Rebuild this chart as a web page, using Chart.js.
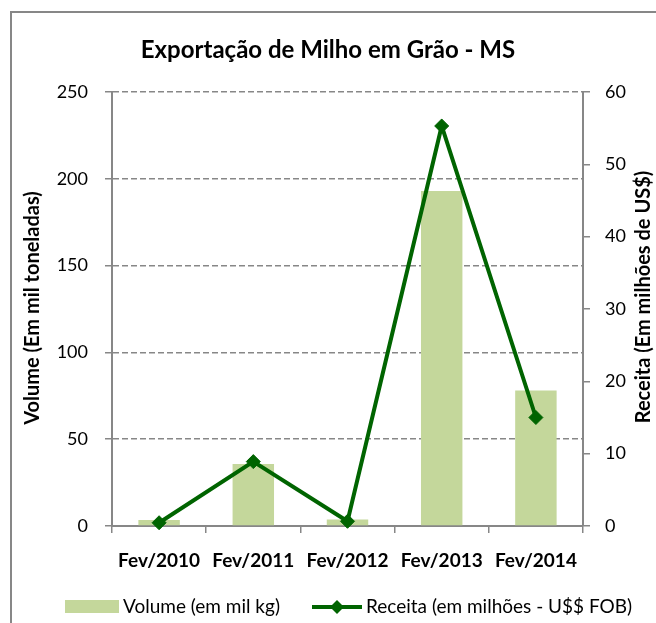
<!DOCTYPE html>
<html><head><meta charset="utf-8">
<script src="https://cdn.jsdelivr.net/npm/chart.js@4"></script>
<style>html,body{margin:0;padding:0;background:#fff}#wrap{width:656px;height:623px;position:relative}</style>
</head><body><div id="wrap"><canvas id="c" width="656" height="623"></canvas></div>
<script>
const categories = ['Fev/2010', 'Fev/2011', 'Fev/2012', 'Fev/2013', 'Fev/2014'];
const volumeValues = [3.4, 35.7, 3.8, 193, 78];
const receitaValues = [0.45, 8.9, 0.65, 55.3, 15.0];
const volumeTicks = [0, 50, 100, 150, 200, 250];
const receitaTicks = [0, 10, 20, 30, 40, 50, 60];
const seriesNames = ['Volume (em mil kg)', 'Receita (em milhões - U$$ FOB)'];
const chartTitle = 'Exportação de Milho em Grão - MS';
const leftAxisTitle = 'Volume (Em mil toneladas)';
const rightAxisTitle = 'Receita (Em milhões de US$)';

const FONT = 'Lato';
const BAR_COLOR = '#C4D79B';
const LINE_COLOR = '#006400';
const AXIS_COLOR = '#878787';

const decorPlugin = {
  id: 'decor',
  beforeDraw(chart) {
    const ctx = chart.ctx;
    ctx.save();
    ctx.fillStyle = '#ffffff';
    ctx.fillRect(0, 0, chart.width, chart.height);
    ctx.strokeStyle = AXIS_COLOR;
    ctx.lineWidth = 2;
    ctx.beginPath();
    ctx.moveTo(11, chart.height);
    ctx.lineTo(11, 12);
    ctx.lineTo(chart.width, 12);
    ctx.stroke();
    ctx.restore();
  },
  afterDraw(chart) {
    const ctx = chart.ctx;
    const area = chart.chartArea;
    const midY = (area.top + area.bottom) / 2;
    ctx.save();
    ctx.fillStyle = '#000';
    ctx.font = 'bold 20px ' + FONT;
    ctx.textAlign = 'center';
    ctx.textBaseline = 'middle';
    ctx.save();
    ctx.translate(33, midY - 1);
    ctx.rotate(-Math.PI / 2);
    ctx.fillText(leftAxisTitle, 0, 0);
    ctx.restore();
    ctx.save();
    ctx.translate(644, midY - 12);
    ctx.rotate(-Math.PI / 2);
    ctx.fillText(rightAxisTitle, 0, 0);
    ctx.restore();

    // legend
    const ds = chart.data.datasets;
    const barDs = ds.find(d => d.type === 'bar');
    const lineDs = ds.find(d => d.type === 'line');
    const ly = 607;
    ctx.font = '19px ' + FONT;
    ctx.textAlign = 'left';
    ctx.fillStyle = barDs.backgroundColor;
    ctx.fillRect(65, 600, 54, 13);
    ctx.fillStyle = '#000';
    ctx.fillText(barDs.label, 123, ly);
    ctx.strokeStyle = lineDs.borderColor;
    ctx.lineWidth = 4;
    ctx.beginPath();
    ctx.moveTo(312, ly);
    ctx.lineTo(362, ly);
    ctx.stroke();
    ctx.fillStyle = lineDs.borderColor;
    ctx.beginPath();
    ctx.moveTo(337, ly - 7);
    ctx.lineTo(344, ly);
    ctx.lineTo(337, ly + 7);
    ctx.lineTo(330, ly);
    ctx.closePath();
    ctx.fill();
    ctx.fillStyle = '#000';
    ctx.fillText(lineDs.label, 366, ly);
    ctx.restore();
  }
};

new Chart(document.getElementById('c'), {
  type: 'bar',
  data: {
    labels: categories,
    datasets: [
      {
        type: 'line',
        label: seriesNames[1],
        data: receitaValues,
        yAxisID: 'y1',
        borderColor: LINE_COLOR,
        backgroundColor: LINE_COLOR,
        borderWidth: 4,
        pointStyle: 'rectRot',
        pointRadius: 7,
        pointBorderWidth: 1,
        pointBackgroundColor: LINE_COLOR,
        pointBorderColor: LINE_COLOR,
        tension: 0,
        clip: false,
        order: 0
      },
      {
        type: 'bar',
        label: seriesNames[0],
        data: volumeValues,
        yAxisID: 'y',
        backgroundColor: BAR_COLOR,
        borderWidth: 0,
        barPercentage: 0.44,
        categoryPercentage: 1,
        order: 1
      }
    ]
  },
  options: {
    responsive: false,
    animation: false,
    devicePixelRatio: 1,
    layout: { padding: { left: 0, right: 0, top: 0, bottom: 0 } },
    plugins: {
      legend: { display: false },
      tooltip: { enabled: false },
      title: {
        display: true,
        text: chartTitle,
        color: '#000',
        font: { family: FONT, size: 24, weight: 'bold', lineHeight: 1.2 },
        padding: { top: 36, bottom: 27.2 }
      }
    },
    scales: {
      x: {
        position: 'bottom',
        afterFit(scale) { scale.height = 97; },
        grid: { display: true, drawOnChartArea: false, drawTicks: true, tickLength: 7, color: AXIS_COLOR, lineWidth: 1.5, offset: true },
        border: { display: true, color: AXIS_COLOR, width: 2 },
        ticks: { color: '#000', padding: 16, maxRotation: 0, autoSkip: false, font: { family: FONT, size: 19, weight: 'bold' } }
      },
      y: {
        position: 'left',
        min: volumeTicks[0],
        max: volumeTicks[volumeTicks.length - 1],
        afterFit(scale) { scale.width = 112; },
        afterBuildTicks(scale) { scale.ticks = volumeTicks.map(v => ({ value: v })); },
        grid: { color: AXIS_COLOR, lineWidth: 1.5, tickLength: 7, drawTicks: true, tickBorderDash: [] },
        border: { display: true, color: AXIS_COLOR, width: 2, dash: [6, 3] },
        ticks: { color: '#000', padding: 17, font: { family: FONT, size: 18 } }
      },
      y1: {
        position: 'right',
        min: receitaTicks[0],
        max: receitaTicks[receitaTicks.length - 1],
        afterFit(scale) { scale.width = 73; },
        afterBuildTicks(scale) { scale.ticks = receitaTicks.map(v => ({ value: v })); },
        grid: { drawOnChartArea: false, color: AXIS_COLOR, lineWidth: 1.5, tickLength: 7, drawTicks: true },
        border: { display: true, color: AXIS_COLOR, width: 2 },
        ticks: { color: '#000', padding: 15, font: { family: FONT, size: 18 } }
      }
    }
  },
  plugins: [decorPlugin]
});
</script>
</body></html>
